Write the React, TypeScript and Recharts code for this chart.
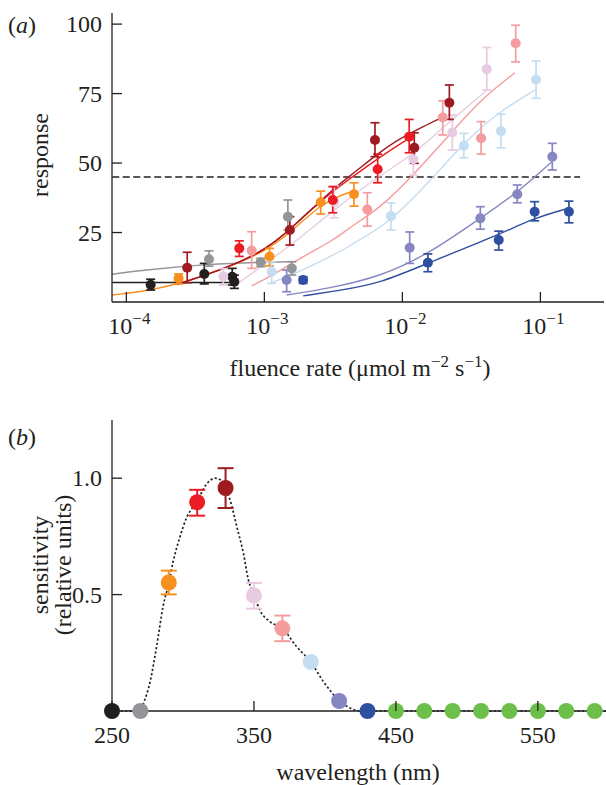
import React from 'react';
import { ComposedChart, Line, Scatter, XAxis, YAxis, ErrorBar } from 'recharts';

const FONT = '"Liberation Serif", "Times New Roman", serif';
const INK = '#231f20';
const FS = 24;

// ---------- colours (style) ----------
const C = {
  black: '#231f20',
  gray: '#939598',
  orange: '#f7901e',
  red: '#ed1c24',
  darkred: '#9e1b21',
  lpink: '#e7cbe2',
  salmon: '#f49c9e',
  lblue: '#c5ddf1',
  purple: '#8687c2',
  dblue: '#2f4fa0',
  green: '#6cc04a',
};

// ---------- panel (a) data ----------
// points: [fluence rate, response, lower bound, upper bound]
type Pt = [number, number, number, number];
type Fp = [number, number];

const FLUENCE_DOMAIN: [number, number] = [7.87e-5, 0.289];
const FLUENCE_TICKS = [1e-4, 1e-3, 1e-2, 1e-1];
const RESPONSE_DOMAIN: [number, number] = [0, 104];
const RESPONSE_TICKS = [25, 50, 75, 100];
const THRESHOLD = [
  { x: 7.9e-5, y: 45 },
  { x: 0.194, y: 45 },
];

const PTS_BLACK: Pt[] = [[1.5e-4, 6.2, 4.3, 8.2], [3.67e-4, 10.1, 6.5, 13.9], [5.85e-4, 9.1, 6.1, 12.1], [6.06e-4, 7.3, 4.9, 9.7]];
const PTS_GRAY: Pt[] = [[3.97e-4, 15.4, 12.9, 18.4], [9.4e-4, 14.3, 12.7, 15.7], [1.48e-3, 30.7, 25.9, 36.7], [1.58e-3, 12.1, 9.7, 14.5]];
const PTS_ORANGE: Pt[] = [[2.39e-4, 8.5, 6.5, 10.1], [1.09e-3, 16.4, 13.0, 19.3], [2.56e-3, 35.9, 31.7, 39.9], [4.46e-3, 38.8, 34.5, 42.9]];
const PTS_RED: Pt[] = [[6.58e-4, 19.3, 16.4, 22.0], [3.13e-3, 36.7, 32.1, 41.5], [6.62e-3, 47.8, 42.9, 53.2], [1.12e-2, 59.5, 53.7, 65.7]];
const PTS_DARKRED: Pt[] = [[2.76e-4, 12.3, 6.9, 17.9], [1.53e-3, 25.9, 20.5, 30.7], [6.33e-3, 58.3, 52.3, 64.5], [1.22e-2, 55.5, 49.9, 60.9], [2.19e-2, 71.7, 65.7, 78.1]];
const PTS_LPINK: Pt[] = [[5.04e-4, 9.2, 6.1, 12.0], [3.21e-3, 36.1, 30.3, 41.8], [1.2e-2, 51.4, 45.7, 55.9], [2.3e-2, 61.0, 54.7, 67.3], [4.09e-2, 83.8, 76.3, 91.6]];
const PTS_SALMON: Pt[] = [[8.09e-4, 18.5, 12.1, 25.3], [5.57e-3, 33.3, 27.3, 39.3], [1.96e-2, 66.4, 60.1, 72.4], [3.72e-2, 58.9, 53.2, 64.9], [6.62e-2, 93.1, 86.4, 99.6]];
const PTS_LBLUE: Pt[] = [[1.13e-3, 10.9, 6.7, 14.5], [8.27e-3, 30.9, 25.9, 35.7], [2.79e-2, 56.2, 51.9, 60.7], [5.18e-2, 61.5, 55.5, 67.6], [9.3e-2, 80.1, 73.3, 86.7]];
const PTS_PURPLE: Pt[] = [[1.45e-3, 7.9, 3.7, 11.5], [1.13e-2, 19.5, 13.9, 25.2], [3.67e-2, 30.1, 26.2, 34.3], [6.8e-2, 38.8, 35.7, 42.1], [0.122, 52.3, 47.5, 57.1]];
const PTS_DBLUE: Pt[] = [[1.91e-3, 7.9, 6.7, 9.1], [1.53e-2, 14.1, 10.9, 17.3], [4.99e-2, 22.3, 18.7, 25.5], [9.09e-2, 32.5, 29.2, 36.1], [0.161, 32.5, 28.5, 36.3]];

// fitted curves: [fluence rate, response]
const FIT_BLACK: Fp[] = [[7.9e-5, 7.0], [6.4e-4, 7.0]];
const FIT_GRAY: Fp[] = [[7.9e-5, 10.0], [1.32e-4, 11.5], [4.04e-4, 13.7], [9.3e-4, 14.3], [1.7e-3, 14.5]];
const FIT_ORANGE: Fp[] = [[7.9e-5, 2.5], [1.36e-4, 3.9], [2.32e-4, 6.3], [4.03e-4, 10.2], [6.98e-4, 14.6], [1.01e-3, 18.5], [1.41e-3, 23.5], [1.9e-3, 29.2], [2.53e-3, 34.5], [3.37e-3, 38.0], [4.47e-3, 40.0]];
const FIT_RED: Fp[] = [[2.32e-4, 6.3], [4.03e-4, 10.2], [6.98e-4, 14.8], [1.01e-3, 19.0], [1.41e-3, 24.5], [1.9e-3, 30.5], [2.53e-3, 36.0], [3.37e-3, 41.0], [4.47e-3, 45.5], [6.6e-3, 51.5], [9.0e-3, 56.0], [1.22e-2, 60.0]];
const FIT_DARKRED: Fp[] = [[2.32e-4, 6.3], [4.03e-4, 10.2], [6.98e-4, 14.8], [1.01e-3, 19.0], [1.41e-3, 24.5], [1.9e-3, 30.5], [2.53e-3, 36.2], [3.37e-3, 41.8], [4.47e-3, 46.5], [6.6e-3, 53.3], [9.0e-3, 58.0], [1.22e-2, 61.5], [1.6e-2, 64.5], [1.95e-2, 66.4]];
const FIT_LPINK: Fp[] = [[6.44e-4, 6.7], [1.1e-3, 15.0], [1.81e-3, 23.0], [3.25e-3, 33.5], [6.89e-3, 45.7], [1.2e-2, 53.0], [2.09e-2, 64.0], [4.1e-2, 76.3]];
const FIT_SALMON: Fp[] = [[8.09e-4, 5.8], [1.1e-3, 9.1], [1.81e-3, 15.8], [3.25e-3, 22.5], [4.17e-3, 27.0], [6.89e-3, 33.7], [1.2e-2, 45.7], [2.09e-2, 58.9], [3.65e-2, 72.7], [6.55e-2, 82.5]];
const FIT_LBLUE: Fp[] = [[1.13e-3, 6.9], [1.81e-3, 11.0], [3.25e-3, 17.0], [4.93e-3, 22.5], [8.27e-3, 29.0], [1.58e-2, 43.5], [2.76e-2, 57.0], [4.82e-2, 67.9], [9.15e-2, 76.3]];
const FIT_PURPLE: Fp[] = [[1.45e-3, 2.5], [3.0e-3, 5.0], [6.89e-3, 9.1], [1.58e-2, 17.5], [3.65e-2, 30.1], [6.73e-2, 39.1], [0.121, 50.5]];
const FIT_DBLUE: Fp[] = [[1.91e-3, 2.2], [3.53e-3, 4.2], [6.89e-3, 6.7], [1.54e-2, 14.1], [4.95e-2, 24.1], [8.89e-2, 30.1], [0.159, 33.7]];

// ---------- panel (b) data ----------
const WAVELENGTHS = [250, 270, 290, 310, 330, 350, 370, 390, 410, 430, 450, 470, 490, 510, 530, 550, 570, 590];
const SENSITIVITY = [0, 0, 0.552, 0.897, 0.958, 0.496, 0.355, 0.211, 0.043, 0, 0, 0, 0, 0, 0, 0, 0, 0];
const SENS_LOW = [0, 0, 0.501, 0.839, 0.872, 0.44, 0.30, 0.211, 0.043, 0, 0, 0, 0, 0, 0, 0, 0, 0];
const SENS_HIGH = [0, 0, 0.603, 0.95, 1.043, 0.55, 0.41, 0.211, 0.043, 0, 0, 0, 0, 0, 0, 0, 0, 0];
const WL_DOMAIN: [number, number] = [250, 598];
const WL_TICKS = [250, 350, 450, 550];
const SENS_DOMAIN: [number, number] = [0, 1.25];
const SENS_TICKS = [0.5, 1.0];

const SPECTRUM_WL = [250, 270, 272, 277, 281.5, 286, 290, 293, 298, 302.5, 307, 310, 314, 319, 323, 327, 330, 333, 338, 342.5, 346, 350, 354, 361, 370, 380, 390, 399, 410, 418, 425, 598];
const SPECTRUM_S = [0, 0, 0.03, 0.13, 0.28, 0.45, 0.55, 0.64, 0.75, 0.83, 0.875, 0.895, 0.95, 0.99, 1.0, 0.99, 0.955, 0.91, 0.79, 0.68, 0.565, 0.5, 0.435, 0.385, 0.355, 0.277, 0.21, 0.126, 0.045, 0.012, 0, 0];

const POINT_COLORS_B = [C.black, C.gray, C.orange, C.red, C.darkred, C.lpink, C.salmon, C.lblue, C.purple, C.dblue,
  C.green, C.green, C.green, C.green, C.green, C.green, C.green, C.green];

// ---------- build tables ----------
const toPoints = (pts: Pt[]) => pts.map(([x, y, lo, hi]) => ({ x, y, err: [y - lo, hi - y] }));
const toCurve = (c: Fp[]) => c.map(([x, y]) => ({ x, y }));

const SERIES_A = [
  { key: 'black', color: C.black, pts: PTS_BLACK, fit: FIT_BLACK },
  { key: 'gray', color: C.gray, pts: PTS_GRAY, fit: FIT_GRAY },
  { key: 'orange', color: C.orange, pts: PTS_ORANGE, fit: FIT_ORANGE },
  { key: 'lpink', color: C.lpink, pts: PTS_LPINK, fit: FIT_LPINK },
  { key: 'salmon', color: C.salmon, pts: PTS_SALMON, fit: FIT_SALMON },
  { key: 'lblue', color: C.lblue, pts: PTS_LBLUE, fit: FIT_LBLUE },
  { key: 'purple', color: C.purple, pts: PTS_PURPLE, fit: FIT_PURPLE },
  { key: 'dblue', color: C.dblue, pts: PTS_DBLUE, fit: FIT_DBLUE },
  { key: 'red', color: C.red, pts: PTS_RED, fit: FIT_RED },
  { key: 'darkred', color: C.darkred, pts: PTS_DARKRED, fit: FIT_DARKRED },
];

const POINTS_B = WAVELENGTHS.map((w, i) => ({
  x: w,
  y: SENSITIVITY[i],
  err: [SENSITIVITY[i] - SENS_LOW[i], SENS_HIGH[i] - SENSITIVITY[i]],
  color: POINT_COLORS_B[i],
  hasErr: SENS_HIGH[i] - SENS_LOW[i] > 0,
}));
const SPECTRUM = SPECTRUM_WL.map((w, i) => ({ x: w, y: SPECTRUM_S[i] }));

// ---------- ticks ----------
const LogTick = (props: any) => {
  const { x, y, payload } = props;
  const exp = Math.round(Math.log10(payload.value));
  return (
    <g>
      <line x1={x} x2={x} y1={y} y2={y - 10} stroke={INK} strokeWidth={1.3} />
      <text x={x + 3} y={y + 32} textAnchor="middle" fontFamily={FONT} fontSize={FS} fill={INK}>
        10<tspan dy={-10} fontSize={17}>{'\u2212' + Math.abs(exp)}</tspan>
      </text>
    </g>
  );
};

const BottomTick = (props: any) => {
  const { x, y, payload } = props;
  return (
    <g>
      <line x1={x} x2={x} y1={y} y2={y - 10} stroke={INK} strokeWidth={1.3} />
      <text x={x} y={y + 32} textAnchor="middle" fontFamily={FONT} fontSize={FS} fill={INK}>
        {payload.value}
      </text>
    </g>
  );
};

const makeLeftTick = (digits: number) => (props: any) => {
  const { x, y, payload } = props;
  return (
    <g>
      <line x1={x} x2={x + 10} y1={y} y2={y} stroke={INK} strokeWidth={1.3} />
      <text x={x - 10} y={y + 8} textAnchor="end" fontFamily={FONT} fontSize={FS} fill={INK}>
        {digits > 0 ? Number(payload.value).toFixed(digits) : payload.value}
      </text>
    </g>
  );
};
const LeftTickA = makeLeftTick(0);
const LeftTickB = makeLeftTick(1);

const circleShape = (r: number, color: string) => (p: any) =>
  p.cx == null || p.cy == null ? <g /> : <circle cx={p.cx} cy={p.cy} r={r} fill={color} />;

export default function App() {
  return (
    <div style={{ position: 'absolute', left: 0, top: 0, width: 606, height: 785, background: '#fff', overflow: 'hidden' }}>
      {/* panel (a) */}
      <div style={{ position: 'absolute', left: 0, top: 0 }}>
        <ComposedChart width={606} height={400} margin={{ top: 13, right: 2, bottom: 68, left: 12 }}>
          <XAxis
            dataKey="x"
            type="number"
            scale="log"
            domain={FLUENCE_DOMAIN}
            ticks={FLUENCE_TICKS}
            interval={0}
            height={30}
            tickSize={0}
            tickMargin={0}
            tickLine={false}
            axisLine={{ stroke: INK, strokeWidth: 1.3 }}
            tick={LogTick}
          />
          <YAxis
            dataKey="y"
            type="number"
            domain={RESPONSE_DOMAIN}
            ticks={RESPONSE_TICKS}
            interval={0}
            width={100}
            tickSize={0}
            tickMargin={0}
            tickLine={false}
            axisLine={{ stroke: INK, strokeWidth: 1.3 }}
            tick={LeftTickA}
          />
          <Line
            data={THRESHOLD}
            dataKey="y"
            stroke={INK}
            strokeWidth={1.4}
            strokeDasharray="7 3.5"
            dot={false}
            activeDot={false}
            isAnimationActive={false}
          />
          {SERIES_A.map((s) => (
            <Line
              key={'fit-' + s.key}
              data={toCurve(s.fit)}
              dataKey="y"
              type="basis"
              stroke={s.color}
              strokeWidth={1.4}
              dot={false}
              activeDot={false}
              isAnimationActive={false}
            />
          ))}
          {SERIES_A.map((s) => (
            <Scatter
              key={'pts-' + s.key}
              data={toPoints(s.pts)}
              fill={s.color}
              shape={circleShape(5, s.color)}
              isAnimationActive={false}
            >
              <ErrorBar dataKey="err" direction="y" width={4.5} stroke={s.color} strokeWidth={1.7} isAnimationActive={false} />
            </Scatter>
          ))}
        </ComposedChart>
      </div>

      {/* panel (b) */}
      <div style={{ position: 'absolute', left: 0, top: 400 }}>
        <ComposedChart width={606} height={385} margin={{ top: 20, right: 0, bottom: 44, left: 12 }}>
          <XAxis
            dataKey="x"
            type="number"
            domain={WL_DOMAIN}
            ticks={WL_TICKS}
            interval={0}
            height={30}
            tickSize={0}
            tickMargin={0}
            tickLine={false}
            axisLine={{ stroke: INK, strokeWidth: 1.3 }}
            tick={BottomTick}
          />
          <YAxis
            dataKey="y"
            type="number"
            domain={SENS_DOMAIN}
            ticks={SENS_TICKS}
            interval={0}
            width={100}
            tickSize={0}
            tickMargin={0}
            tickLine={false}
            axisLine={{ stroke: INK, strokeWidth: 1.3 }}
            tick={LeftTickB}
          />
          <Line
            data={SPECTRUM}
            dataKey="y"
            type="monotone"
            stroke={INK}
            strokeWidth={1.7}
            strokeDasharray="2.2 2.2"
            dot={false}
            activeDot={false}
            isAnimationActive={false}
          />
          {POINTS_B.map((p, i) => (
            <Scatter
              key={'b-' + i}
              data={[p]}
              fill={p.color}
              shape={circleShape(8, p.color)}
              isAnimationActive={false}
            >
              {p.hasErr ? (
                <ErrorBar dataKey="err" direction="y" width={8} stroke={p.color} strokeWidth={2} isAnimationActive={false} />
              ) : null}
            </Scatter>
          ))}
        </ComposedChart>
      </div>

      {/* titles */}
      <svg width={606} height={785} style={{ position: 'absolute', left: 0, top: 0, pointerEvents: 'none' }}>
        <g fontFamily={FONT} fontSize={FS} fill={INK}>
          <text x={8} y={33}>(<tspan fontStyle="italic">a</tspan>)</text>
          <text transform="translate(48,155) rotate(-90)" textAnchor="middle">response</text>
          <text x={360} y={376} textAnchor="middle">
            fluence rate (μmol m<tspan dy={-9} fontSize={17}>−2</tspan>
            <tspan dy={9}> s</tspan>
            <tspan dy={-9} fontSize={17}>−1</tspan>
            <tspan dy={9}>)</tspan>
          </text>
          <text x={8} y={445}>(<tspan fontStyle="italic">b</tspan>)</text>
          <text transform="translate(48,565) rotate(-90)" textAnchor="middle">sensitivity</text>
          <text transform="translate(71,565) rotate(-90)" textAnchor="middle">(relative units)</text>
          <text x={358} y={780} textAnchor="middle">wavelength (nm)</text>
        </g>
      </svg>
    </div>
  );
}
